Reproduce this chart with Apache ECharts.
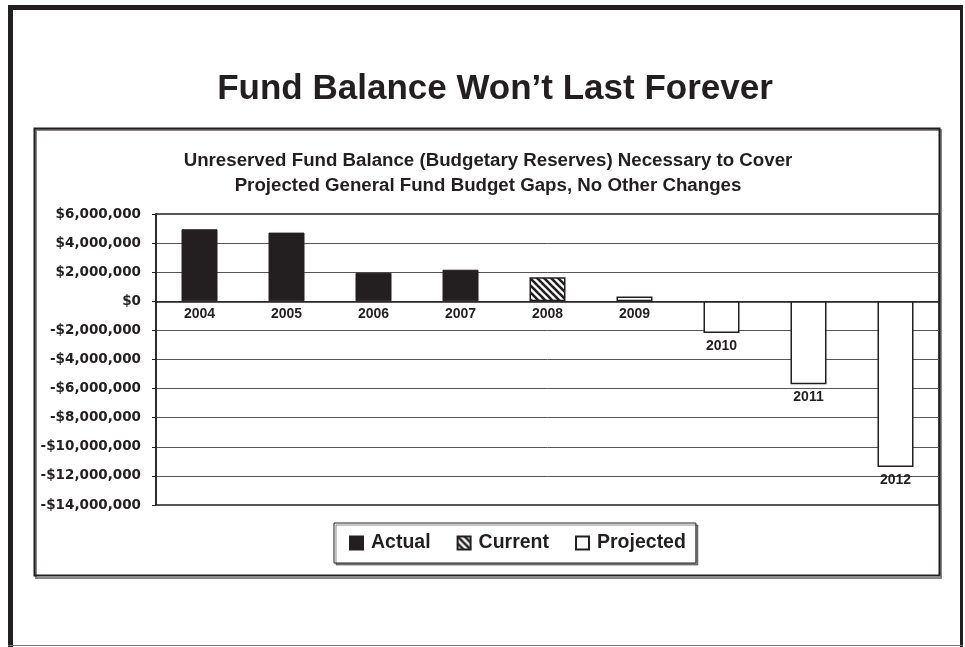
<!DOCTYPE html>
<html>
<head>
<meta charset="utf-8">
<script src="https://cdn.jsdelivr.net/npm/echarts@6/dist/echarts.min.js"></script>
<style>
html,body{margin:0;padding:0;background:#fff;}
#chart{width:965px;height:647px;}
</style>
</head>
<body>
<div id="chart"></div>
<script>
// ---- data ----
const mainTitle = 'Fund Balance Won\u2019t Last Forever';
const subTitle = 'Unreserved Fund Balance (Budgetary Reserves) Necessary to Cover\nProjected General Fund Budget Gaps, No Other Changes';
const categories = ['2004', '2005', '2006', '2007', '2008', '2009', '2010', '2011', '2012'];
const balance = [4950000, 4720000, 1960000, 2170000, 1650000, 330000, -2180000, -5700000, -11380000];
const status = ['Actual', 'Actual', 'Actual', 'Actual', 'Current', 'Projected', 'Projected', 'Projected', 'Projected'];
const seriesNames = ['Actual', 'Current', 'Projected'];
const yMin = -14000000, yMax = 6000000, yStep = 2000000;

// ---- styles ----
const ink = '#231f20';
function stripePattern() {
  const s = 7;
  const c = document.createElement('canvas');
  c.width = s; c.height = s;
  const g = c.getContext('2d');
  g.fillStyle = '#fff';
  g.fillRect(0, 0, s, s);
  g.strokeStyle = ink;
  g.lineWidth = 2.6;
  for (const o of [-s, 0, s]) {
    g.beginPath();
    g.moveTo(o - 1, -1);
    g.lineTo(o + s + 1, s + 1);
    g.stroke();
  }
  return c;
}
const fills = {
  Actual: { color: ink, borderColor: ink, borderWidth: 1 },
  Current: { color: { image: stripePattern(), repeat: 'repeat' }, borderColor: ink, borderWidth: 1.5 },
  Projected: { color: '#ffffff', borderColor: ink, borderWidth: 1.5 }
};

function money(v) {
  const a = Math.abs(v).toString().replace(/\B(?=(\d{3})+(?!\d))/g, ',');
  return (v < 0 ? '-$' : '$') + a;
}

const series = seriesNames.map(name => ({
  name: name,
  type: 'bar',
  barWidth: 36,
  barGap: '-100%',
  data: balance.map((v, i) => status[i] === name ? v : '-'),
  itemStyle: fills[name],
  label: {
    show: true,
    position: 'bottom',
    distance: 6,
    formatter: '{b}',
    color: ink,
    fontFamily: 'Liberation Sans',
    fontWeight: 'bold',
    fontSize: 14
  },
  emphasis: { disabled: true },
  animation: false
}));

const chart = echarts.init(document.getElementById('chart'), null, { renderer: 'canvas' });
chart.setOption({
  animation: false,
  backgroundColor: '#ffffff',
  title: [
    {
      text: mainTitle,
      left: 490, top: 67, textAlign: 'center',
      textStyle: { fontFamily: 'Liberation Sans', fontWeight: 'bold', fontSize: 35, color: ink }
    },
    {
      text: subTitle,
      left: 483, top: 143, textAlign: 'center',
      textStyle: { fontFamily: 'Liberation Sans', fontWeight: 'bold', fontSize: 18.7, color: ink, lineHeight: 25 }
    }
  ],
  legend: {
    data: seriesNames,
    left: 334, top: 523,
    padding: [10, 10, 10, 15],
    itemWidth: 13, itemHeight: 13,
    itemGap: 26,
    borderColor: ink, borderWidth: 1,
    backgroundColor: '#fff',
    shadowColor: 'rgba(0,0,0,0.45)', shadowOffsetX: 2, shadowOffsetY: 2, shadowBlur: 0,
    selectedMode: false,
    icon: 'rect',
    textStyle: { fontFamily: 'Liberation Sans', fontWeight: 'bold', fontSize: 19.5, color: ink, padding: [0, 0, 0, 3] }
  },
  grid: {
    left: 156, right: 26, top: 214, bottom: 142,
    show: true, borderColor: ink, borderWidth: 1.5, backgroundColor: 'transparent'
  },
  xAxis: {
    type: 'category',
    data: categories,
    axisLine: { onZero: true, lineStyle: { color: ink, width: 1.5 } },
    axisTick: { show: false },
    axisLabel: { show: false },
    splitLine: { show: false }
  },
  yAxis: {
    type: 'value',
    min: yMin, max: yMax, interval: yStep,
    axisLine: { show: true, lineStyle: { color: ink, width: 1.5 } },
    axisTick: { show: true, length: 4, lineStyle: { color: ink } },
    axisLabel: {
      formatter: money,
      margin: 15,
      color: ink,
      fontFamily: 'DejaVu Sans',
      fontWeight: 'bold',
      fontSize: 13.5
    },
    splitLine: { show: true, lineStyle: { color: '#555', width: 1 } }
  },
  graphic: [
    { type: 'rect', shape: { x: 8, y: 5, width: 5, height: 642 }, style: { fill: ink }, silent: true },
    { type: 'rect', shape: { x: 8, y: 5, width: 955, height: 5 }, style: { fill: ink }, silent: true },
    { type: 'rect', shape: { x: 960, y: 5, width: 3, height: 642 }, style: { fill: ink }, silent: true },
    { type: 'rect', shape: { x: 8, y: 645, width: 955, height: 1 }, style: { fill: '#777' }, silent: true },
    { type: 'rect', shape: { x: 36, y: 130, width: 905, height: 448 }, style: { fill: 'none', stroke: '#888', lineWidth: 2 }, silent: true, z: -1 },
    { type: 'rect', shape: { x: 34.5, y: 128.5, width: 905, height: 447 }, style: { fill: 'none', stroke: ink, lineWidth: 2 }, silent: true, z: -1 }
  ],
  series: series
});
</script>
</body>
</html>
